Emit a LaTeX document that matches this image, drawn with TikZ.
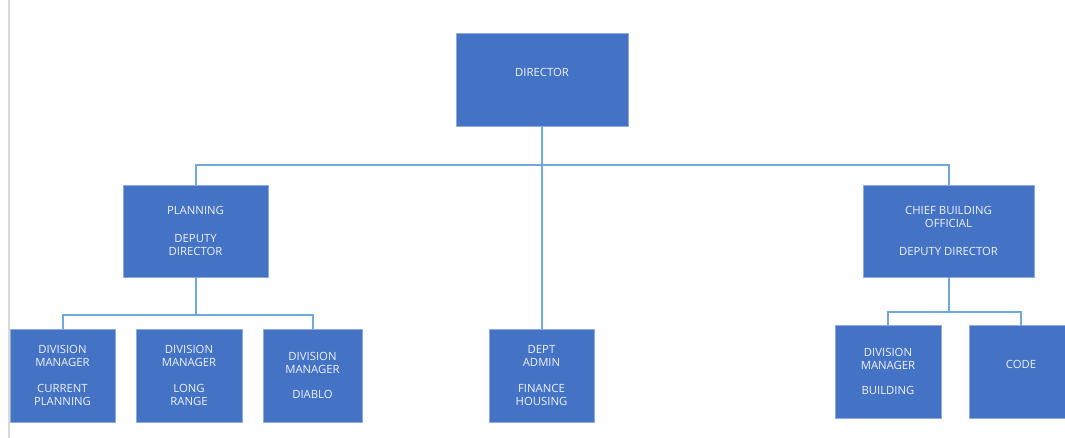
\documentclass[tikz,border=0pt]{standalone}
\usepackage{fontspec}
\setmainfont{Open Sans}
\definecolor{boxfill}{HTML}{4472C4}
\definecolor{boxedge}{HTML}{8FAADC}
\definecolor{connc}{HTML}{6FA8DC}
\definecolor{edgegray}{HTML}{D9D9D9}
\definecolor{txtc}{HTML}{EEF2FA}
\begin{document}
\begin{tikzpicture}[x=0.75pt,y=-0.75pt,
  orgbox/.style={rectangle, fill=boxfill, draw=boxedge, line width=0.5pt,
    inner sep=0pt, align=center, text=txtc,
    font=\fontsize{8.5pt}{10pt}\selectfont},
  conn/.style={draw=connc, line width=1.5pt}]
\useasboundingbox (0,0) rectangle (1065,438);
\draw[edgegray, line width=1.5pt] (8.5,0) -- (8.5,438);

\node[orgbox, minimum width=172*0.75pt, minimum height=93*0.75pt] (dir) at (542,79.5) {DIRECTOR\\ \mbox{}};
\node[orgbox, minimum width=145*0.75pt, minimum height=92*0.75pt] (plan) at (195.5,231) {PLANNING\\[11pt]DEPUTY\\DIRECTOR};
\node[orgbox, minimum width=171*0.75pt, minimum height=92*0.75pt] (cbo) at (948.5,231) {CHIEF BUILDING\\OFFICIAL\\[11pt]DEPUTY DIRECTOR};
\node[orgbox, minimum width=105*0.75pt, minimum height=93*0.75pt] (dma) at (62.5,375.5) {DIVISION\\MANAGER\\[9pt]CURRENT\\PLANNING};
\node[orgbox, minimum width=106*0.75pt, minimum height=93*0.75pt] (dmb) at (189,375.5) {DIVISION\\MANAGER\\[9pt]LONG\\RANGE};
\node[orgbox, minimum width=99*0.75pt, minimum height=93*0.75pt] (dmc) at (312.5,375.5) {DIVISION\\MANAGER\\[9pt]DIABLO};
\node[orgbox, minimum width=105*0.75pt, minimum height=93*0.75pt] (dept) at (541.5,375.5) {DEPT\\ADMIN\\[9pt]FINANCE\\HOUSING};
\node[orgbox, minimum width=106*0.75pt, minimum height=93*0.75pt] (dmd) at (888,371.5) {DIVISION\\MANAGER\\[9pt]BUILDING};
\node[orgbox, minimum width=104*0.75pt, minimum height=93*0.75pt] (code) at (1021,371.5) {CODE\\ \mbox{}};

\coordinate (busT) at (542,165);
\coordinate (busP) at (195.5,315);
\coordinate (busC) at (948.5,312);

\draw[conn] (dir.south) -- (dir.south |- dept.north);
\draw[conn] (plan.north) |- (busT) -| (cbo.north);
\draw[conn] (plan.south) -- (busP);
\draw[conn] (dma.north) |- (busP) -| (dmc.north);
\draw[conn] (cbo.south) -- (busC);
\draw[conn] (dmd.north) |- (busC) -| (code.north);
\end{tikzpicture}
\end{document}
